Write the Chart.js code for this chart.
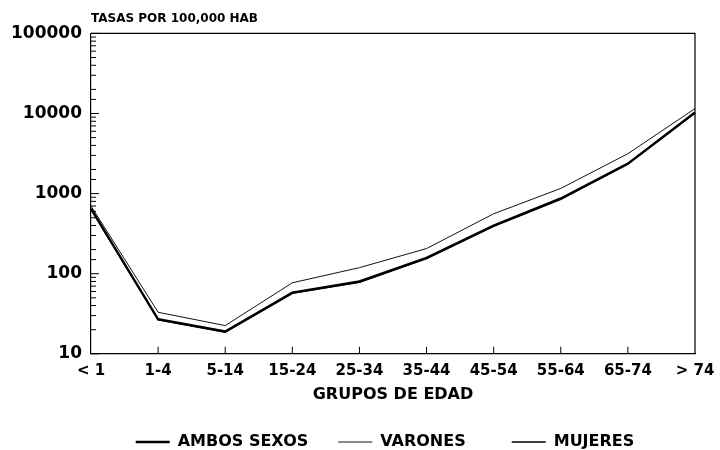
<!DOCTYPE html>
<html>
<head>
<meta charset="utf-8">
<script src="https://cdn.jsdelivr.net/npm/chart.js@4"></script>
<style>
  body { margin: 0; background: #fff; }
  #wrap { width: 720px; height: 450px; }
</style>
</head>
<body>
<div id="wrap"><canvas id="tasasChart" width="720" height="450"></canvas></div>
<script>
const grupos = ['< 1', '1-4', '5-14', '15-24', '25-34', '35-44', '45-54', '55-64', '65-74', '> 74'];
const ambosSexos = [650, 27, 19, 58, 80, 158, 400, 870, 2370, 10300];
const varones = [700, 33, 22.5, 77, 119, 206, 560, 1160, 3150, 11500];
const mujeres = [640, 26.5, 18.6, 57, 78, 155, 390, 850, 2330, 10200];

const fontFam = '"DejaVu Sans", sans-serif';
// extra spacing after each legend entry (the original legend is spread wider)
const legendGap = ['', '\u2002\u2002', '\u2002\u2002'];

// frame on top/right plus inward tick marks like the original plot
const frameTicks = {
    id: 'frameTicks',
    afterDraw(chart) {
        const { ctx, chartArea: a, scales } = chart;
        ctx.save();
        ctx.strokeStyle = '#000';
        ctx.lineWidth = 1.2;
        ctx.beginPath();
        ctx.moveTo(a.left, a.top);
        ctx.lineTo(a.right, a.top);
        ctx.lineTo(a.right, a.bottom);
        ctx.stroke();

        ctx.lineWidth = 1;
        ctx.beginPath();
        scales.y.ticks.forEach(t => {
            const yy = scales.y.getPixelForValue(t.value);
            const major = Math.abs(Math.log10(t.value) - Math.round(Math.log10(t.value))) < 1e-6;
            ctx.moveTo(a.left, yy);
            ctx.lineTo(a.left + (major ? 8 : 5), yy);
        });
        scales.x.ticks.forEach((t, i) => {
            if (i === 0 || i === scales.x.ticks.length - 1) return;
            const xx = scales.x.getPixelForTick(i);
            ctx.moveTo(xx, a.bottom);
            ctx.lineTo(xx, a.bottom - 7);
        });
        ctx.stroke();
        ctx.restore();
    }
};

new Chart(document.getElementById('tasasChart').getContext('2d'), {
    type: 'line',
    data: {
        labels: grupos,
        datasets: [
            { label: 'AMBOS SEXOS', data: ambosSexos, borderColor: '#000', borderWidth: 2.4, pointRadius: 0, tension: 0 },
            { label: 'VARONES', data: varones, borderColor: '#111', borderWidth: 1, pointRadius: 0, tension: 0 },
            { label: 'MUJERES', data: mujeres, borderColor: '#000', borderWidth: 1.6, pointRadius: 0, tension: 0 }
        ]
    },
    options: {
        responsive: false,
        animation: false,
        layout: { padding: { left: 4, right: 25, top: 0, bottom: -10 } },
        scales: {
            x: {
                offset: false,
                grid: { display: false },
                border: { display: true, color: '#000', width: 1.2 },
                ticks: { color: '#000', padding: 0, maxRotation: 0, autoSkip: false,
                    font: { family: fontFam, size: 15, weight: 'bold' } },
                title: { display: true, text: 'GRUPOS DE EDAD', color: '#000', padding: { top: 5, bottom: 0 },
                    font: { family: fontFam, size: 16, weight: 'bold' } }
            },
            y: {
                type: 'logarithmic',
                min: 10,
                max: 100000,
                grid: { display: false },
                border: { display: true, color: '#000', width: 1.2 },
                afterFit: (scale) => { scale.width = 87; },
                ticks: {
                    color: '#000', padding: 1, autoSkip: false,
                    font: { family: fontFam, size: 17, weight: 'bold' },
                    callback: (v) => {
                        const l = Math.log10(v);
                        return Math.abs(l - Math.round(l)) < 1e-6 ? String(v) : '';
                    }
                }
            }
        },
        plugins: {
            title: {
                display: true,
                text: 'TASAS POR 100,000 HAB',
                align: 'start',
                fullSize: false,
                color: '#000',
                padding: { top: 12, bottom: 7 },
                font: { family: fontFam, size: 12, weight: 'bold' }
            },
            legend: {
                position: 'bottom',
                fullSize: false,
                labels: {
                    color: '#000',
                    usePointStyle: true,
                    pointStyle: 'line',
                    pointStyleWidth: 34,
                    padding: 30,
                    font: { family: fontFam, size: 16, weight: 'bold' },
                    generateLabels: (chart) => {
                        const items = Chart.defaults.plugins.legend.labels.generateLabels(chart);
                        items.forEach((it, i) => { it.text += legendGap[i]; });
                        return items;
                    }
                }
            },
            tooltip: { enabled: false }
        }
    },
    plugins: [frameTicks]
});
</script>
</body>
</html>
